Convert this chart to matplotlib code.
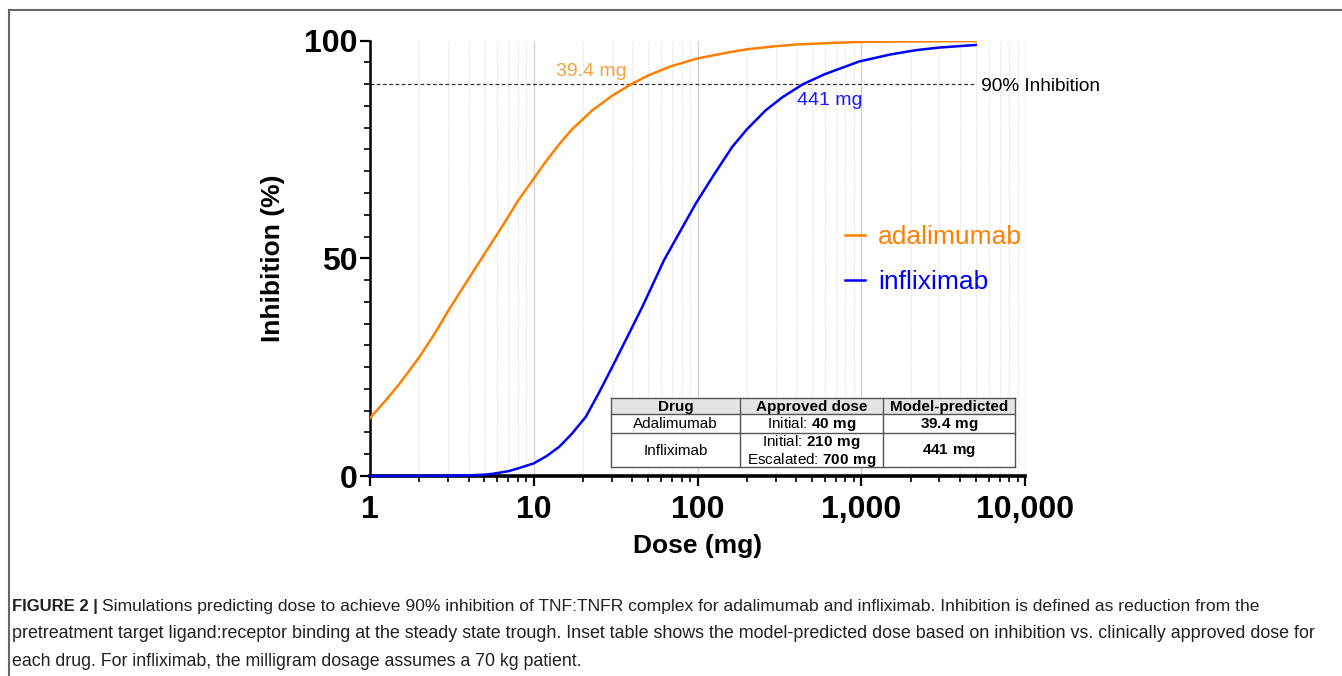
import numpy as np
import matplotlib
matplotlib.use("Agg")
import matplotlib.pyplot as plt
from matplotlib.ticker import FixedLocator, NullFormatter, FuncFormatter
from matplotlib.patches import Rectangle

plt.rcParams['font.family'] = ['Liberation Sans', 'DejaVu Sans']
plt.rcParams['mathtext.fontset'] = 'custom'
plt.rcParams['mathtext.rm'] = 'Liberation Sans'
plt.rcParams['mathtext.bf'] = 'Liberation Sans:bold'

# values
ada_dose = [1, 1.25, 1.5, 2, 2.5, 3, 3.5, 4, 5, 6, 7, 8, 10, 12, 14.3, 17, 22.8, 30,
            39.4, 50, 70, 100, 150, 200, 300, 400, 700, 1000, 2000, 5000]
ada_inhib = [13.3, 17.4, 21.0, 27.3, 32.9, 37.9, 41.9, 45.3, 51.0, 55.6, 59.6, 63.2,
             68.3, 72.5, 76.2, 79.5, 84.0, 87.3, 90.0, 92.0, 94.2, 95.9, 97.2, 98.0,
             98.7, 99.1, 99.5, 99.7, 99.8, 99.9]

ifx_dose = [1, 3, 4, 5, 5.6, 7, 8.1, 10, 12, 14.3, 17, 20.8, 25, 30.2, 37, 46.1, 55,
            62.5, 80, 97.7, 125, 163, 200, 261, 330, 441, 600, 971, 1500, 2154, 3000, 5000]
ifx_inhib = [0.0, 0.05, 0.15, 0.3, 0.5, 1.1, 1.8, 2.9, 4.6, 6.7, 9.6, 13.6, 19.1,
             25.1, 31.7, 38.9, 45.1, 49.6, 56.8, 62.6, 69.0, 75.6, 79.6, 84.0, 87.0,
             90.0, 92.3, 95.2, 96.8, 97.8, 98.4, 99.0]

target = 90
ada_pred, ifx_pred = 39.4, 441

table_header = ["Drug", "Approved dose", "Model-predicted"]
table_rows = [
    ["Adalimumab", r"Initial: $\bf{40\ mg}$", r"$\bf{39.4\ mg}$"],
    ["Infliximab", "Initial: $\\bf{210\\ mg}$\nEscalated: $\\bf{700\\ mg}$", r"$\bf{441\ mg}$"],
]

caption = [
    "Simulations predicting dose to achieve 90% inhibition of TNF:TNFR complex for adalimumab and infliximab. Inhibition is defined as reduction from the",
    "pretreatment target ligand:receptor binding at the steady state trough. Inset table shows the model-predicted dose based on inhibition vs. clinically approved dose for",
    "each drug. For infliximab, the milligram dosage assumes a 70 kg patient.",
]

orange = '#ff8000'
blue = '#0000ff'

fig = plt.figure(figsize=(13.42, 6.76), dpi=100)
ax = fig.add_axes([370/1342, 1-476/676, 655/1342, 435.4/676])

ax.plot(ada_dose, ada_inhib, color=orange, lw=1.8, label='adalimumab', zorder=3)
ax.plot(ifx_dose, ifx_inhib, color=blue, lw=1.8, label='infliximab', zorder=4, clip_on=False)

ax.set_xscale('log')
ax.set_xlim(1, 10000)
ax.set_ylim(0, 100)

# 90% line
ax.plot([1, 5000], [target, target], color='#333333', lw=0.9, ls=(0, (3, 2)), zorder=2)
ax.text(5000, target - 0.5, " 90% Inhibition", fontsize=13.7, va='center', ha='left')

ax.text(22.4, 92.8, f"{ada_pred} mg", color='#f7a040', fontsize=14, ha='center', va='center')
ax.text(646, 86.3, f"{ifx_pred:.0f} mg", color='#1a1aff', fontsize=14, ha='center', va='center')

# ticks
ax.yaxis.set_major_locator(FixedLocator([0, 50, 100]))
ax.yaxis.set_minor_locator(FixedLocator(np.arange(5, 100, 5)))
ax.xaxis.set_major_locator(FixedLocator([1, 10, 100, 1000, 10000]))
minors = [m * 10**e for e in range(4) for m in range(2, 10)]
ax.xaxis.set_minor_locator(FixedLocator(minors))
ax.xaxis.set_minor_formatter(NullFormatter())
ax.xaxis.set_major_formatter(FuncFormatter(lambda v, p: f"{int(round(v)):,}"))
ax.tick_params(axis='both', which='major', labelsize=23, width=1.6, length=7)
ax.tick_params(axis='y', which='major', pad=2)
ax.tick_params(axis='x', which='major', pad=7)
ax.tick_params(axis='both', which='minor', width=1.2, length=4)
for lab in ax.get_xticklabels() + ax.get_yticklabels():
    lab.set_fontweight('bold')

ax.spines['top'].set_visible(False)
ax.spines['right'].set_visible(False)
ax.spines['left'].set_linewidth(1.8)
ax.spines['bottom'].set_linewidth(2.6)

# vertical grid
for v in [10, 100, 1000, 10000]:
    ax.axvline(v, color='#d4d4d4', lw=1.0, zorder=0)
for v in minors:
    ax.axvline(v, color='#dcdcdc', lw=0.8, ls=(0, (1, 1.5)), zorder=0)

ax.set_xlabel("Dose (mg)", fontsize=19, fontweight='bold', labelpad=6)
ax.set_ylabel("Inhibition (%)", fontsize=19, fontweight='bold', labelpad=14)

leg = ax.legend(loc='center left', bbox_to_anchor=(0.725, 0.497), frameon=False,
                fontsize=19, handlelength=0.76, handletextpad=0.5, labelspacing=0.82,
                borderaxespad=0, borderpad=0, labelcolor='linecolor')

# inset table
tax = fig.add_axes([611/1342, 1-467.3/676, 404/1342, 69.6/676])
tax.set_xlim(0, 404)
tax.set_ylim(69.6, 0)
tax.axis('off')
col_x = [0, 129, 272, 404]
row_y = [0, 16.6, 35.6, 69.6]
tax.add_patch(Rectangle((0, 0), 404, 69.6, facecolor='white', edgecolor='none'))
tax.add_patch(Rectangle((0, 0), 404, row_y[1], facecolor='#e4e4e4', edgecolor='none'))
for yy in row_y:
    tax.plot([0, 404], [yy, yy], color='#555555', lw=1.0, clip_on=False)
for xx in col_x:
    tax.plot([xx, xx], [0, 69.6], color='#555555', lw=1.0, clip_on=False)
for j, h in enumerate(table_header):
    tax.text((col_x[j] + col_x[j+1]) / 2, row_y[1] / 2 + 0.5, h, fontsize=11,
             fontweight='bold', ha='center', va='center')
for i, row in enumerate(table_rows):
    yc = (row_y[i+1] + row_y[i+2]) / 2
    for j, cell in enumerate(row):
        tax.text((col_x[j] + col_x[j+1]) / 2, yc + 0.5, cell, fontsize=11,
                 ha='center', va='center', linespacing=1.0)

# caption
renderer = fig.canvas.get_renderer()
t = fig.text(12/1342, 1-606/676, "FIGURE 2 | ", fontsize=12, fontweight='bold',
             color='#231f20', va='center', ha='left')
bb = t.get_window_extent(renderer)
fig.text(bb.x1/1342, 1-606/676, caption[0], fontsize=12.6, color='#231f20', va='center')
fig.text(12/1342, 1-634/676, caption[1], fontsize=12.9, color='#231f20', va='center')
fig.text(12/1342, 1-661/676, caption[2], fontsize=12.8, color='#231f20', va='center')

# frame around figure
fig.add_artist(plt.Line2D([9/1342, 1], [1-10/676, 1-10/676], color='#666666', lw=1.5))
fig.add_artist(plt.Line2D([9/1342, 9/1342], [0, 1-10/676], color='#666666', lw=1.5))

fig.savefig("out.png", dpi=100)
